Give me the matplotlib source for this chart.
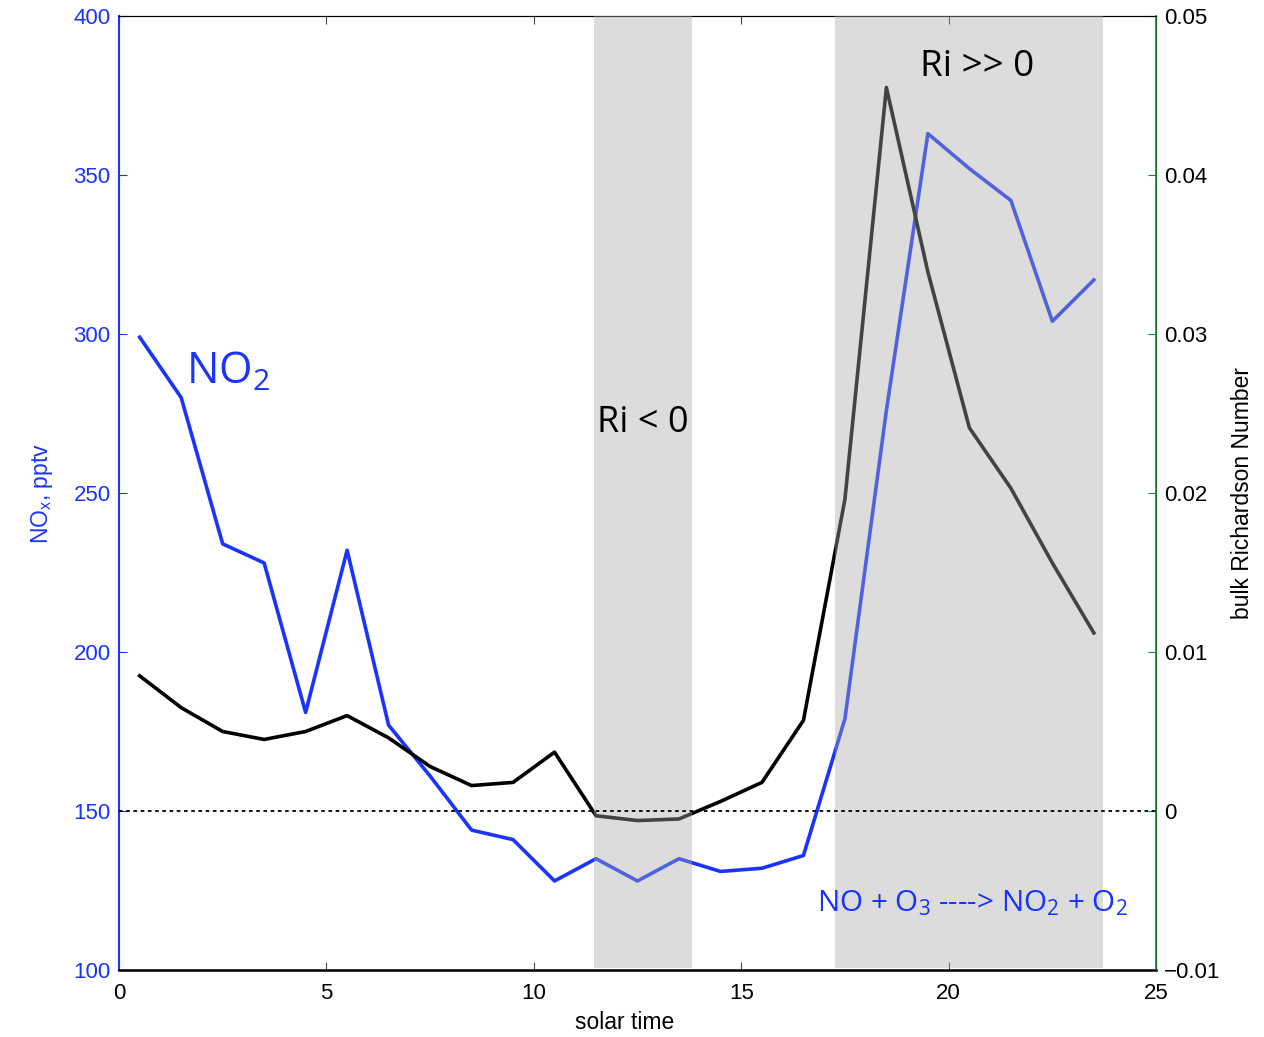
import matplotlib
matplotlib.use("Agg")
from matplotlib import pyplot as plt

plt.rcParams['font.family'] = ['Liberation Sans', 'DejaVu Sans']
plt.rcParams['mathtext.default'] = 'regular'

# hourly values, solar time
solar_time = [0.5, 1.5, 2.5, 3.5, 4.5, 5.5, 6.5, 7.5, 8.5, 9.5, 10.5, 11.5,
              12.5, 13.5, 14.5, 15.5, 16.5, 17.5, 18.5, 19.5, 20.5, 21.5, 22.5, 23.5]
no2 = [299, 280, 234, 228, 181, 232, 177, 161, 144, 141, 128, 135,
       128, 135, 131, 132, 136, 179, 276, 363, 352, 342, 304, 317]
ri = [0.0085, 0.0065, 0.0050, 0.0045, 0.0050, 0.0060, 0.0046, 0.0028,
      0.0016, 0.0018, 0.0037, -0.0003, -0.0006, -0.0005, 0.0006, 0.0018,
      0.0057, 0.0196, 0.0455, 0.0339, 0.0241, 0.0203, 0.0156, 0.0112]

# stability periods
unstable = (11.45, 13.82)
stable = (17.26, 23.72)

blue = '#1a33ff'
green = '#168a2e'

fig = plt.figure(figsize=(12.64, 10.37), dpi=100)
ax = fig.add_axes([0.0941, 0.0646, 0.8205, 0.92])
ax2 = ax.twinx()

ax.plot(solar_time, no2, color=blue, lw=2.6, zorder=2)
ax.set_xlim(0, 25)
ax.set_ylim(100, 400)
ax.set_xticks([0, 5, 10, 15, 20, 25])
ax.set_yticks([100, 150, 200, 250, 300, 350, 400])
ax.tick_params(axis='x', direction='in', length=6, labelsize=16, top=True,
               color='#444444', pad=9)
ax.tick_params(axis='y', direction='in', length=6, labelsize=16,
               colors=blue, pad=6)
ax.spines['left'].set_color(blue)
ax.spines['left'].set_linewidth(1.5)
ax.spines['bottom'].set_linewidth(1.8)
ax.set_xlabel('solar time', fontsize=16.5)
ax.xaxis.set_label_coords(0.488, -0.043)
ax.set_ylabel('NO$_x$, pptv', fontsize=16.5, color=blue)
ax.yaxis.set_label_coords(-0.062, 0.5)

ax2.plot(solar_time, ri, color='black', lw=2.6, zorder=2)
ax2.axhline(0, color='black', lw=1.3, ls=(0, (2, 2)), zorder=4)
for lo, hi in (unstable, stable):
    ax2.axvspan(lo, hi, ymin=0.002, ymax=1, facecolor='#a8a8a8', alpha=0.4,
                lw=0, zorder=3)
ax2.set_ylim(-0.01, 0.05)
ax2.set_yticks([-0.01, 0, 0.01, 0.02, 0.03, 0.04, 0.05])
ax2.set_yticklabels(['\u22120.01', '0', '0.01', '0.02', '0.03', '0.04', '0.05'])
ax2.tick_params(axis='y', direction='in', length=6, labelsize=16,
                color=green, labelcolor='black', pad=6)
ax2.spines['right'].set_color(green)
ax2.spines['right'].set_linewidth(1.2)
ax2.spines['left'].set_visible(False)
ax2.set_ylabel('bulk Richardson Number', fontsize=16.5)
ax2.yaxis.set_label_coords(1.072, 0.5)

notes = ['Open Sans', 'DejaVu Sans']
ax2.text(12.63, 0.0244, 'Ri < 0', fontsize=26, family=notes,
         ha='center', va='center', zorder=5)
ax2.text(20.68, 0.0468, 'Ri >> 0', fontsize=26.5, family=notes,
         ha='center', va='center', zorder=5)
ax.text(1.62, 288, 'NO$_2$', fontsize=31, family=notes, color=blue,
        ha='left', va='center')
ax2.text(16.83, -0.0058, 'NO + O$_3$ ----> NO$_2$ + O$_2$', fontsize=21.3,
         family=notes, color=blue, ha='left', va='center', zorder=5)

plt.savefig('out.png', dpi=100)
